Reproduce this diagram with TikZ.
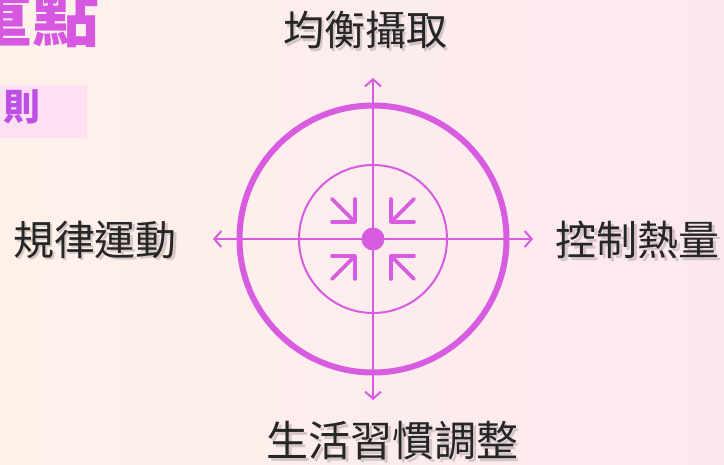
\documentclass[tikz,border=0pt]{standalone}
\usepackage{fontspec}
\setmainfont{Noto Sans CJK TC}
\usetikzlibrary{arrows.meta}
\definecolor{mag}{RGB}{216,92,224}
\definecolor{bgL}{RGB}{254,241,234}
\definecolor{bgR}{RGB}{253,232,240}
\definecolor{boxpink}{RGB}{255,224,242}
\definecolor{ttl}{RGB}{214,88,224}
\definecolor{subttl}{RGB}{188,80,230}
\tikzset{
  lbl/.style={font=\fontsize{41}{48}\selectfont, text=black!85, inner sep=0pt},
  lblshadow/.style={font=\fontsize{41}{48}\selectfont, text=black, opacity=0.16, inner sep=0pt},
  axis/.style={draw=mag, line width=2pt, -{Straight Barb[length=7pt,width=16pt]}},
  pin/.style={draw=mag, line width=3.6pt, line cap=round, line join=round}
}
\begin{document}
\begin{tikzpicture}[x=1pt,y=-1pt]
\shade[left color=bgL, right color=bgR] (0,0) rectangle (724,464);
\useasboundingbox (0,0) rectangle (724,464);
% title fragments
\node[font=\fontsize{67}{70}\selectfont\bfseries, text=ttl, inner sep=0pt] (title) at (32.5,16) {重點};
\fill[boxpink] (0,85) rectangle (87,138);
\node[font=\fontsize{37}{40}\selectfont\bfseries, text=subttl, inner sep=0pt] (sub) at (22.5,107) {則};
% centre
\coordinate (c) at (373,239);
\coordinate (up) at (373,78);
\coordinate (down) at (373,400);
\coordinate (left) at (213,239);
\coordinate (right) at (533,239);
\draw[axis] (c) -- (up);
\draw[axis] (c) -- (down);
\draw[axis] (c) -- (left);
\draw[axis] (c) -- (right);
\draw[mag, line width=6pt] (c) circle[radius=133.5];
\draw[mag, line width=2pt] (c) circle[radius=74];
\fill[mag] (c) circle[radius=11.5];
% inward arrows
\draw[pin] (332,199) -- (355,222);
\draw[pin] (332,222) -- (355,222) -- (355,199);
\draw[pin] (414,199) -- (391,222);
\draw[pin] (414,222) -- (391,222) -- (391,199);
\draw[pin] (332,279) -- (355,256);
\draw[pin] (332,256) -- (355,256) -- (355,279);
\draw[pin] (414,279) -- (391,256);
\draw[pin] (414,256) -- (391,256) -- (391,279);
% labels
\node[lblshadow] at (367.5,32.5) {均衡攝取};
\node[lbl] (top) at (365,30) {均衡攝取};
\node[lblshadow] at (97.5,242.5) {規律運動};
\node[lbl] (lt) at (95,240) {規律運動};
\node[lblshadow] at (640,242.5) {控制熱量};
\node[lbl] (rt) at (637.5,240) {控制熱量};
\node[lblshadow, font=\fontsize{42}{48}\selectfont] at (395,443.5) {生活習慣調整};
\node[lbl, font=\fontsize{42}{48}\selectfont] (bt) at (392.5,441) {生活習慣調整};
\end{tikzpicture}
\end{document}
